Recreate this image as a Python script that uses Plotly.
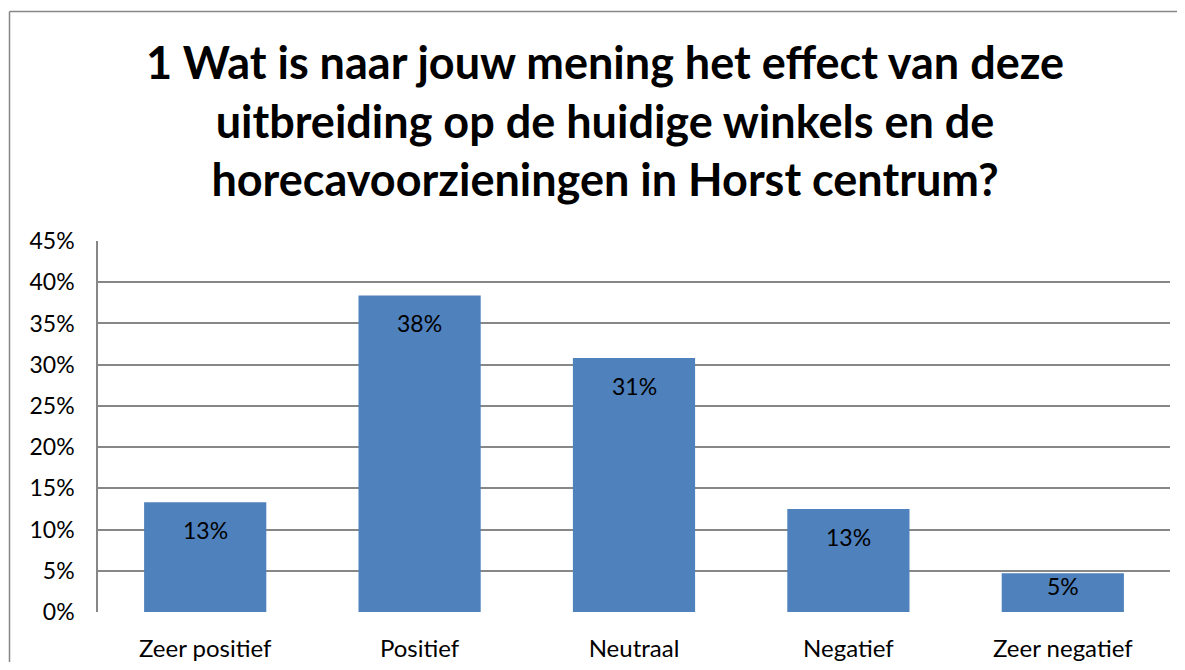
import plotly.graph_objects as go

categories = ["Zeer positief", "Positief", "Neutraal", "Negatief", "Zeer negatief"]
values = [0.133, 0.384, 0.308, 0.125, 0.047]
labels = ["13%", "38%", "31%", "13%", "5%"]
title_text = ("1 Wat is naar jouw mening het effect van deze<br>"
              "uitbreiding op de huidige winkels en de<br>"
              "horecavoorzieningen in Horst centrum?")
y_ticks = [0, 0.05, 0.10, 0.15, 0.20, 0.25, 0.30, 0.35, 0.40, 0.45]
y_ticktext = ["0%", "5%", "10%", "15%", "20%", "25%", "30%", "35%", "40%", "45%"]

OFF = 8  # page body margin
W, H = 1185 - 2 * OFF, 670 - 2 * OFF  # avoid scrollbars
ML, MT = 98 - OFF, 241 - OFF
PR, PB = 1170 - OFF, 612 - OFF
MR, MB = W - PR, H - PB
pw, ph = PR - ML, PB - MT

FONT = "Lato, 'Open Sans', sans-serif"
GRID = "#878787"

fig = go.Figure()
fig.add_trace(go.Bar(
    x=categories, y=values,
    marker=dict(color="#4F81BD", line=dict(width=0)),
    hoverinfo="skip",
))

for c, v, t in zip(categories, values, labels):
    fig.add_annotation(x=c, y=v, text=t, showarrow=False,
                       xref="x", yref="y", yanchor="middle",
                       yshift=-28 if v >= 0.1 else -13,
                       font=dict(family=FONT, size=23, color="#000000"))

# title as a centred multi-line annotation
fig.add_annotation(text="<b>" + title_text + "</b>", showarrow=False,
                   xref="paper", yref="paper",
                   x=(605 - OFF - ML) / pw, y=(PB - (121 - OFF)) / ph,
                   xanchor="center", yanchor="middle", align="center",
                   font=dict(family=FONT, size=45, color="#000000"))

# outer chart border (only top and left edges are visible in the reference)
bx0 = (9.5 - OFF - ML) / pw
by1 = (PB - (11.5 - OFF)) / ph
fig.add_shape(type="line", xref="paper", yref="paper",
              x0=bx0, x1=(W + 20 - ML) / pw, y0=by1, y1=by1,
              line=dict(color="#878787", width=1.5), layer="below")
fig.add_shape(type="line", xref="paper", yref="paper",
              x0=bx0, x1=bx0, y0=-(MB + 20) / ph, y1=by1,
              line=dict(color="#878787", width=1.5), layer="below")

fig.update_layout(
    width=W, height=H,
    margin=dict(l=ML, r=MR, t=MT, b=MB, autoexpand=False),
    paper_bgcolor="white", plot_bgcolor="white",
    showlegend=False,
    bargap=0.43,
    xaxis=dict(showgrid=False, showline=False, ticks="",
               tickfont=dict(family=FONT, size=24, color="#000000"),
               ticklabelstandoff=20, automargin=False),
    yaxis=dict(range=[0, 0.45], tickvals=y_ticks, ticktext=y_ticktext,
               showgrid=True, gridcolor=GRID, gridwidth=1.5,
               zeroline=False, showline=True, linecolor=GRID, linewidth=1.5,
               ticks="", ticklabelstandoff=17, automargin=False,
               tickfont=dict(family=FONT, size=23, color="#000000")),
)

fig.write_html("out.html")
